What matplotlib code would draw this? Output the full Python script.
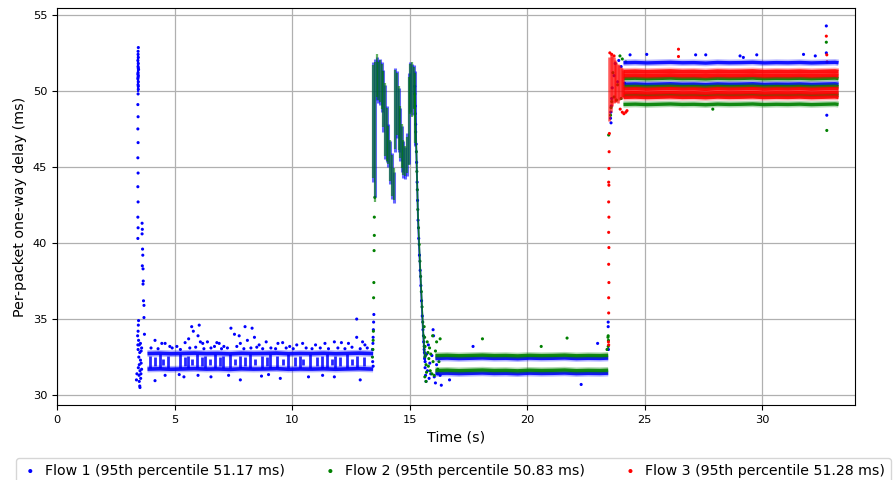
import matplotlib
matplotlib.use("Agg")
import matplotlib.pyplot as plt

BLUE, GREEN, RED = "#0000ff", "#008000", "#ff0000"

flow_labels = ["Flow 1 (95th percentile 51.17 ms)",
               "Flow 2 (95th percentile 50.83 ms)",
               "Flow 3 (95th percentile 51.28 ms)"]

# ---------------- time grids of the dense delay bands ----------------
TA = [3.85, 4.35, 4.85, 5.35, 5.85, 6.35, 6.85, 7.35, 7.85, 8.35,
      8.85, 9.35, 9.85, 10.35, 10.85, 11.35, 11.85, 12.35, 12.85, 13.45]
TB = [16.1, 16.6, 17.1, 17.6, 18.1, 18.6, 19.1, 19.6, 20.1, 20.6,
      21.1, 21.6, 22.1, 22.6, 23.1, 23.45]
TC = [24.1, 24.6, 25.1, 25.6, 26.1, 26.6, 27.1, 27.6, 28.1, 28.6,
      29.1, 29.6, 30.1, 30.6, 31.1, 31.6, 32.1, 32.6, 33.1, 33.25]

# ---------------- band delays (ms) ----------------
f1_A_hi = [32.73, 32.75, 32.72, 32.74, 32.76, 32.73, 32.74, 32.71, 32.75, 32.73,
           32.74, 32.76, 32.72, 32.74, 32.73, 32.75, 32.72, 32.74, 32.76, 32.73]
f1_A_lo = [31.71, 31.73, 31.70, 31.72, 31.74, 31.71, 31.72, 31.69, 31.73, 31.71,
           31.72, 31.74, 31.70, 31.72, 31.71, 31.73, 31.70, 31.72, 31.74, 31.71]

f1_B_hi = [32.41, 32.43, 32.40, 32.42, 32.44, 32.41, 32.42, 32.39,
           32.43, 32.41, 32.42, 32.44, 32.40, 32.42, 32.41, 32.43]
f1_B_lo = [31.42, 31.44, 31.41, 31.43, 31.45, 31.42, 31.43, 31.40,
           31.44, 31.42, 31.43, 31.45, 31.41, 31.43, 31.42, 31.44]
f2_B_hi = [32.60, 32.62, 32.59, 32.61, 32.63, 32.60, 32.61, 32.58,
           32.62, 32.60, 32.61, 32.63, 32.59, 32.61, 32.60, 32.62]
f2_B_lo = [31.62, 31.64, 31.61, 31.63, 31.65, 31.62, 31.63, 31.60,
           31.64, 31.62, 31.63, 31.65, 31.61, 31.63, 31.62, 31.64]

f1_C_1 = [51.85, 51.87, 51.84, 51.86, 51.88, 51.85, 51.86, 51.83, 51.87, 51.85,
          51.86, 51.88, 51.84, 51.86, 51.85, 51.87, 51.84, 51.86, 51.88, 51.85]
f1_C_2 = [50.44, 50.46, 50.43, 50.45, 50.47, 50.44, 50.45, 50.42, 50.46, 50.44,
          50.45, 50.47, 50.43, 50.45, 50.44, 50.46, 50.43, 50.45, 50.47, 50.44]
f2_C_1 = [50.81, 50.83, 50.80, 50.82, 50.84, 50.81, 50.82, 50.79, 50.83, 50.81,
          50.82, 50.84, 50.80, 50.82, 50.81, 50.83, 50.80, 50.82, 50.84, 50.81]
f2_C_2 = [50.27, 50.29, 50.26, 50.28, 50.30, 50.27, 50.28, 50.25, 50.29, 50.27,
          50.28, 50.30, 50.26, 50.28, 50.27, 50.29, 50.26, 50.28, 50.30, 50.27]
f2_C_3 = [49.72, 49.74, 49.71, 49.73, 49.75, 49.72, 49.73, 49.70, 49.74, 49.72,
          49.73, 49.75, 49.71, 49.73, 49.72, 49.74, 49.71, 49.73, 49.75, 49.72]
f2_C_4 = [49.11, 49.13, 49.10, 49.12, 49.14, 49.11, 49.12, 49.09, 49.13, 49.11,
          49.12, 49.14, 49.10, 49.12, 49.11, 49.13, 49.10, 49.12, 49.14, 49.11]
f3_C_1 = [51.27, 51.29, 51.26, 51.28, 51.30, 51.27, 51.28, 51.25, 51.29, 51.27,
          51.28, 51.30, 51.26, 51.28, 51.27, 51.29, 51.26, 51.28, 51.30, 51.27]
f3_C_2 = [51.01, 51.03, 51.00, 51.02, 51.04, 51.01, 51.02, 50.99, 51.03, 51.01,
          51.02, 51.04, 51.00, 51.02, 51.01, 51.03, 51.00, 51.02, 51.04, 51.01]
f3_C_3 = [50.12, 50.14, 50.11, 50.13, 50.15, 50.12, 50.13, 50.10, 50.14, 50.12,
          50.13, 50.15, 50.11, 50.13, 50.12, 50.14, 50.11, 50.13, 50.15, 50.12]
f3_C_4 = [49.87, 49.89, 49.86, 49.88, 49.90, 49.87, 49.88, 49.85, 49.89, 49.87,
          49.88, 49.90, 49.86, 49.88, 49.87, 49.89, 49.86, 49.88, 49.90, 49.87]
f3_C_5 = [49.57, 49.59, 49.56, 49.58, 49.60, 49.57, 49.58, 49.55, 49.59, 49.57,
          49.58, 49.60, 49.56, 49.58, 49.57, 49.59, 49.56, 49.58, 49.60, 49.57]

# ---------------- flow 1 vertical packet stripes between its two bands (3.9-13.1 s) ----------------
f1_st_t = [3.96, 4.17, 4.38, 4.52, 4.74, 5.23, 5.45, 5.59, 5.73, 5.94,
           6.16, 6.30, 6.51, 6.72, 6.94, 7.08, 7.36, 7.57, 7.79, 8.00,
           8.21, 8.43, 8.71, 8.92, 9.06, 9.35, 9.63, 9.84, 10.13, 10.34,
           10.48, 10.77, 11.05, 11.26, 11.48, 11.69, 11.83, 12.04, 12.33, 12.54,
           12.75, 13.04]
f1_st_lo = [31.8, 31.9, 31.8, 32.0, 31.8, 31.8, 31.9, 31.8, 32.0, 31.8,
            31.9, 31.8, 32.0, 31.8, 31.9, 31.8, 31.8, 32.0, 31.8, 31.9,
            31.8, 32.0, 31.8, 31.9, 31.8, 31.8, 32.0, 31.8, 31.9, 31.8,
            32.0, 31.8, 31.9, 31.8, 31.8, 32.0, 31.8, 31.9, 31.8, 32.0,
            31.8, 31.9]
f1_st_hi = [32.6, 32.5, 32.7, 32.4, 32.6, 32.7, 32.5, 32.6, 32.4, 32.7,
            32.5, 32.6, 32.4, 32.7, 32.5, 32.6, 32.7, 32.4, 32.6, 32.5,
            32.7, 32.4, 32.6, 32.5, 32.7, 32.6, 32.4, 32.7, 32.5, 32.6,
            32.4, 32.7, 32.5, 32.6, 32.7, 32.4, 32.6, 32.5, 32.7, 32.4,
            32.6, 32.5]

# dense top of the flow-1 start-up spike (time, lowest, highest delay)
f1_spk_t = [3.445, 3.455]
f1_spk_lo = [49.9, 50.3]
f1_spk_hi = [52.5, 52.2]

# ---------------- oscillation region (delay ranges per time slice) ----------------
osc_t = [13.45, 13.52, 13.60, 13.67, 13.74, 13.81, 13.88, 13.96, 14.03, 14.10,
         14.18, 14.25, 14.32, 14.39, 14.46, 14.53, 14.60, 14.67, 14.74, 14.81,
         14.88, 14.96, 15.03, 15.10, 15.17, 15.22]
f1_osc_lo = [44.0, 43.0, 49.4, 49.2, 49.1, 48.6, 47.3, 45.5, 45.3, 45.0,
             43.9, 42.9, 42.6, 46.0, 46.9, 46.0, 45.4, 44.7, 44.3, 44.2,
             44.4, 45.2, 48.6, 48.4, 48.9, 46.4]
f1_osc_hi = [51.9, 52.1, 52.2, 52.0, 52.1, 51.9, 51.4, 50.4, 49.0, 47.8,
             46.7, 45.9, 44.7, 51.5, 51.3, 50.2, 48.9, 47.7, 46.7, 46.3,
             47.2, 51.2, 51.9, 51.8, 51.7, 51.3]
f2_osc_lo = [44.3, 42.7, 49.6, 49.4, 49.3, 48.8, 47.6, 45.7, 45.4, 45.2,
             44.1, 43.1, 42.8, 46.2, 47.1, 46.1, 45.6, 44.9, 44.5, 44.4,
             44.6, 45.1, 48.5, 48.3, 48.8, 46.6]
f2_osc_hi = [51.7, 51.9, 52.4, 51.9, 52.0, 51.8, 51.3, 50.5, 48.9, 47.7,
             46.8, 45.8, 44.9, 51.4, 51.2, 50.3, 49.0, 47.8, 46.8, 46.4,
             47.0, 50.9, 51.8, 51.9, 51.6, 51.2]

# ---------------- individual packets (time s, delay ms) ----------------
f1_spike = [(3.46, 52.85), (3.45, 52.4), (3.46, 52.2), (3.44, 52.0), (3.46, 51.8),
            (3.45, 51.6), (3.47, 51.4), (3.45, 51.2), (3.46, 51.0), (3.44, 50.8),
            (3.46, 50.6), (3.45, 50.4), (3.46, 50.1), (3.45, 49.8), (3.44, 49.1),
            (3.45, 48.3), (3.44, 47.5), (3.45, 46.6), (3.44, 45.6), (3.45, 44.6),
            (3.44, 43.7), (3.45, 42.7), (3.44, 41.7), (3.45, 41.0), (3.44, 40.3),
            (3.62, 41.3), (3.63, 40.9), (3.62, 40.6), (3.64, 39.6), (3.65, 39.2),
            (3.63, 38.5), (3.66, 38.3), (3.67, 37.5), (3.66, 37.3), (3.68, 36.2),
            (3.70, 35.9), (3.70, 35.1), (3.72, 34.0), (3.46, 34.6), (3.45, 34.2),
            (3.43, 33.9), (3.47, 33.6), (3.50, 33.3), (3.45, 33.0), (3.52, 32.8),
            (3.48, 32.5), (3.55, 32.3), (3.50, 32.0), (3.46, 31.8), (3.53, 31.6),
            (3.49, 31.3), (3.56, 31.1), (3.50, 30.9), (3.52, 30.6), (3.40, 31.4),
            (3.38, 31.0), (3.58, 32.1), (3.60, 31.7), (3.55, 33.4), (3.58, 32.9),
            (3.60, 33.1), (3.57, 31.4), (3.53, 30.5), (3.47, 34.9), (3.44, 33.3),
            (3.45, 52.6), (3.46, 51.5), (3.44, 51.1), (3.45, 50.9), (3.46, 50.3)]
f1_segA = [(4.17, 33.6), (4.46, 33.4), (4.60, 33.4), (4.80, 33.2), (5.45, 33.45),
           (5.60, 33.7), (5.73, 34.5), (5.80, 34.2), (6.00, 33.9), (6.10, 33.5),
           (6.20, 33.4), (6.40, 33.5), (6.80, 33.45), (6.90, 33.4), (7.40, 34.4),
           (7.55, 34.0), (7.75, 33.9), (7.80, 33.4), (8.00, 34.5), (8.10, 33.6),
           (8.30, 34.4), (8.40, 33.8), (8.60, 33.3), (8.90, 33.5), (9.40, 33.4),
           (9.60, 33.45), (10.2, 33.3), (10.45, 33.4), (11.0, 33.3), (11.4, 33.4),
           (11.8, 33.5), (12.1, 33.45), (12.4, 33.4), (12.75, 35.0), (12.75, 33.8),
           (13.0, 33.5), (13.1, 33.3), (5.10, 33.2), (7.10, 33.2), (9.90, 33.2),
           (4.00, 33.1), (4.30, 33.05), (4.90, 33.1), (5.25, 33.0), (5.65, 33.1),
           (5.90, 33.15), (6.25, 33.05), (6.55, 33.1), (6.70, 33.2), (7.00, 33.05),
           (7.25, 33.1), (7.65, 33.2), (7.95, 33.05), (8.25, 33.1), (8.50, 33.15),
           (8.75, 33.05), (9.10, 33.1), (9.30, 33.05), (9.75, 33.1), (10.05, 33.05),
           (10.60, 33.1), (10.85, 33.05), (11.20, 33.1), (11.55, 33.05), (11.95, 33.1),
           (12.25, 33.05), (12.55, 33.15), (12.90, 33.05), (13.20, 33.1), (6.05, 34.6),
           (4.17, 30.95), (5.40, 31.2), (6.55, 31.2), (7.80, 31.0), (9.50, 31.1),
           (11.8, 31.2), (12.9, 31.0), (10.7, 31.2), (8.70, 31.25), (6.00, 31.3),
           (4.60, 31.3), (5.20, 31.35), (7.30, 31.3), (9.00, 31.35), (11.3, 31.3),
           (13.42, 33.0), (13.44, 33.4), (13.45, 33.8), (13.46, 34.3), (13.47, 34.8),
           (13.48, 35.3), (13.43, 32.2), (13.45, 31.9)]
f1_decay = [(15.22, 50.3), (15.24, 49.0), (15.26, 47.8), (15.28, 46.5), (15.30, 45.3),
            (15.32, 44.0), (15.34, 42.8), (15.36, 41.5), (15.39, 40.3), (15.42, 39.2),
            (15.45, 38.2), (15.48, 37.2), (15.51, 36.2), (15.54, 35.2), (15.57, 34.3),
            (15.60, 33.5), (15.63, 32.8), (15.66, 32.2)]
f1_segB = [(15.62, 33.0), (15.64, 32.4), (15.66, 31.8), (15.68, 31.3), (15.70, 30.9),
           (15.73, 32.7), (15.76, 31.6), (15.80, 33.3), (15.83, 31.1), (15.86, 32.1),
           (15.90, 31.4), (15.95, 32.6), (16.00, 34.3), (16.02, 33.9), (16.05, 31.2),
           (16.10, 30.8), (16.15, 32.0), (16.20, 31.4), (16.30, 31.3), (16.35, 30.65),
           (16.70, 31.0), (17.70, 33.2), (22.30, 30.7), (23.00, 33.4), (23.45, 34.5),
           (23.45, 34.8), (23.46, 33.0)]
f1_segC = [(25.09, 52.4), (27.17, 52.37), (27.60, 52.37), (29.06, 52.3), (29.20, 52.2),
           (29.77, 52.37), (31.76, 52.4), (32.26, 52.3), (32.73, 54.27), (32.73, 52.5),
           (32.75, 48.4), (24.38, 52.37), (23.55, 48.2), (23.56, 48.6), (23.57, 47.9),
           (23.58, 49.0), (23.60, 49.5), (23.62, 50.2), (23.70, 51.0), (23.75, 51.8),
           (23.85, 50.6), (23.90, 52.0), (24.00, 51.6), (24.15, 50.5)]

f2_start = [(13.42, 32.5), (13.44, 33.0), (13.45, 33.6), (13.46, 34.2), (13.47, 36.4),
            (13.48, 37.4), (13.49, 39.5), (13.50, 40.5), (13.50, 41.7), (13.52, 43.0)]
f2_decay = [(15.22, 49.8), (15.24, 48.5), (15.26, 47.3), (15.29, 46.0), (15.31, 44.7),
            (15.33, 43.5), (15.35, 42.2), (15.38, 41.0), (15.41, 39.9), (15.44, 38.8),
            (15.47, 37.8), (15.50, 36.8), (15.53, 35.8), (15.56, 34.8), (15.59, 33.9),
            (15.62, 33.2), (15.65, 32.5)]
f2_segB = [(15.62, 34.5), (15.64, 33.8), (15.66, 33.2), (15.68, 32.6), (15.70, 32.0),
           (15.72, 31.5), (15.65, 31.2), (15.75, 33.5), (15.78, 32.8), (15.80, 31.9),
           (15.82, 32.4), (15.85, 33.1), (15.88, 31.6), (15.90, 32.7), (15.95, 31.4),
           (15.98, 33.9), (16.00, 32.2), (16.05, 31.3), (16.10, 32.9), (16.15, 33.5),
           (16.20, 31.7), (16.30, 33.7), (15.70, 30.9), (16.25, 32.2), (18.10, 33.7),
           (21.70, 33.75), (20.60, 33.2), (23.40, 33.0), (23.44, 33.8), (23.45, 33.2),
           (23.46, 33.6), (23.45, 33.9)]
f2_segC = [(23.47, 47.1), (23.55, 48.4), (23.57, 48.9), (23.60, 49.3), (23.95, 52.3),
           (24.05, 52.1), (24.20, 51.9), (32.73, 53.2), (32.75, 47.4), (27.90, 48.8),
           (23.70, 49.6), (23.80, 49.4), (24.00, 49.5), (23.65, 51.2), (23.85, 50.4)]

f3_rise = [(23.47, 33.3), (23.46, 33.5), (23.47, 35.4), (23.47, 36.4), (23.48, 37.4),
           (23.47, 38.6), (23.48, 39.7), (23.47, 40.7), (23.48, 41.7), (23.47, 42.7),
           (23.48, 43.8), (23.47, 44.0), (23.48, 44.9), (23.49, 46.0), (23.50, 47.2)]
f3_segC = [(26.44, 52.74), (26.44, 52.26), (32.73, 53.6), (32.75, 52.37), (32.76, 51.9),
           (23.96, 48.8), (24.05, 48.6), (24.12, 48.5), (24.20, 48.6), (24.25, 48.7),
           (23.52, 52.5), (23.60, 52.4), (23.70, 52.3)]
# dense start cluster of flow 3 (delay range per time slice)
f3_clu_t = [23.50, 23.56, 23.62, 23.68, 23.74, 23.80, 23.86, 23.92, 23.98, 24.04, 24.10]
f3_clu_lo = [48.0, 48.6, 49.0, 49.2, 49.3, 49.3, 49.2, 49.4, 49.5, 49.6, 49.6]
f3_clu_hi = [52.2, 52.4, 52.3, 52.2, 52.0, 51.9, 51.8, 51.7, 51.6, 51.5, 51.4]

# ---------------- figure ----------------
fig = plt.figure(figsize=(8.94, 4.8), dpi=100)
ax = fig.add_axes([57 / 894, 1 - 405 / 480, (855 - 57) / 894, (405 - 8) / 480])


def pts(ax, data, color, **kw):
    xs = [p[0] for p in data]
    ys = [p[1] for p in data]
    return ax.scatter(xs, ys, s=5, color=color, edgecolors="none", **kw)


def band(ax, t, d, color, lw=2.4):
    ax.plot(t, d, color=color, lw=lw + 2.2, alpha=0.3, solid_capstyle="butt")
    ax.plot(t, d, color=color, lw=lw, alpha=0.9, solid_capstyle="butt")


# Flow 1
band(ax, TA, f1_A_hi, BLUE, lw=2.6)
band(ax, TA, f1_A_lo, BLUE, lw=2.6)
ax.vlines(f1_st_t, f1_st_lo, f1_st_hi, color=BLUE, lw=2.0, alpha=0.85)
ax.vlines(f1_spk_t, f1_spk_lo, f1_spk_hi, color=BLUE, lw=1.5, alpha=0.9)
band(ax, TB, f1_B_hi, BLUE)
band(ax, TB, f1_B_lo, BLUE)
band(ax, TC, f1_C_1, BLUE)
band(ax, TC, f1_C_2, BLUE)
ax.vlines(osc_t, f1_osc_lo, f1_osc_hi, color=BLUE, lw=2.2, alpha=0.6)
ax.plot([p[0] for p in f1_decay], [p[1] for p in f1_decay], color=BLUE, lw=1.4, alpha=0.8)
h1 = pts(ax, f1_spike, BLUE, label=flow_labels[0])
pts(ax, f1_segA, BLUE)
pts(ax, f1_decay, BLUE)
pts(ax, f1_segB, BLUE)
pts(ax, f1_segC, BLUE)

# Flow 2
band(ax, TB, f2_B_hi, GREEN)
band(ax, TB, f2_B_lo, GREEN)
band(ax, TC, f2_C_1, GREEN)
band(ax, TC, f2_C_2, GREEN)
band(ax, TC, f2_C_3, GREEN)
band(ax, TC, f2_C_4, GREEN)
ax.vlines(osc_t, f2_osc_lo, f2_osc_hi, color=GREEN, lw=1.6, alpha=0.6)
ax.plot([p[0] for p in f2_decay], [p[1] for p in f2_decay], color=GREEN, lw=1.2, alpha=0.8)
h2 = pts(ax, f2_start, GREEN, label=flow_labels[1])
pts(ax, f2_decay, GREEN)
pts(ax, f2_segB, GREEN)
pts(ax, f2_segC, GREEN)

# Flow 3
band(ax, TC, f3_C_1, RED, lw=2.8)
band(ax, TC, f3_C_2, RED, lw=2.8)
band(ax, TC, f3_C_3, RED)
band(ax, TC, f3_C_4, RED)
band(ax, TC, f3_C_5, RED)
ax.vlines(f3_clu_t, f3_clu_lo, f3_clu_hi, color=RED, lw=1.8, alpha=0.65)
h3 = pts(ax, f3_rise, RED, label=flow_labels[2])
pts(ax, f3_segC, RED)

ax.set_xlim(0, 33.95)
ax.set_ylim(29.35, 55.45)
ax.set_xticks([0, 5, 10, 15, 20, 25, 30])
ax.set_yticks([30, 35, 40, 45, 50, 55])
ax.tick_params(labelsize=8.2)
ax.grid(True, color="#b0b0b0", lw=0.9)
ax.set_axisbelow(True)
ax.set_xlabel("Time (s)", fontsize=10.3)
ax.set_ylabel("Per-packet one-way delay (ms)", fontsize=10.3)

fig.legend(handles=[h1, h2, h3], loc="upper center", bbox_to_anchor=(453.5 / 894, 1 - 451 / 480),
           ncol=3, fontsize=10.2, scatterpoints=1, markerscale=1.3,
           handlelength=1.2, handletextpad=0.45, columnspacing=2.6, borderpad=0.4)

fig.savefig("out.png", dpi=100)
